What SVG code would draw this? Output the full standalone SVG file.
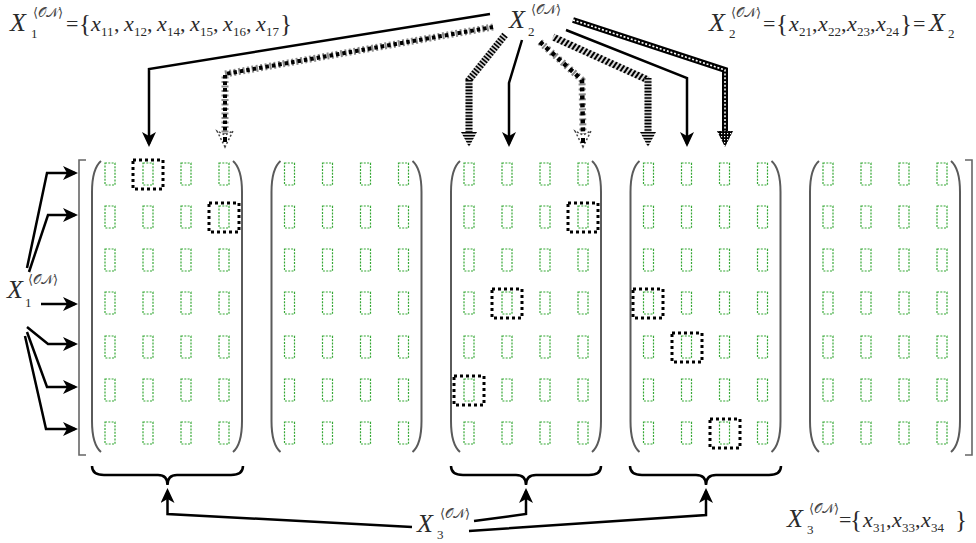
<svg xmlns="http://www.w3.org/2000/svg" width="976" height="543" viewBox="0 0 976 543">
<style>
  .cell{fill:none;stroke:#35a835;stroke-width:1.2;stroke-dasharray:2 1.3}
  .paren{fill:none;stroke:#5a5a5a;stroke-width:2}
  .bracket{fill:none;stroke:#666;stroke-width:1.6}
  .hl{fill:none;stroke:#000;stroke-width:3;stroke-dasharray:3 3}
  .solid{fill:none;stroke:#000;stroke-width:2.5}
  .brace{fill:none;stroke:#000;stroke-width:2.5}
  .t{fill:#2a2a2a;font-family:'Liberation Serif','DejaVu Serif','Times New Roman',serif}
  .X{font-size:26px;font-style:italic}
  .x{font-size:22px;font-style:italic}
  .sb{font-size:13px;font-style:normal}
  .sup{font-size:13px;font-style:normal;fill:#444}
  .op{font-size:22px;font-style:normal}
  .br{font-size:25px;font-style:normal}
</style>
<defs>
  <marker id="ah" viewBox="0 0 16 14" refX="12" refY="7" markerWidth="16" markerHeight="14" markerUnits="userSpaceOnUse" orient="auto">
    <path d="M0,0 L15,7 L0,14 L4,7 z" fill="#000"/>
  </marker>
  <pattern id="hstripe" width="6" height="3" patternUnits="userSpaceOnUse">
    <rect width="6" height="3" fill="#d0d0d0"/>
    <rect width="6" height="1.5" fill="#000"/>
  </pattern>
  <pattern id="diag" width="4" height="4" patternUnits="userSpaceOnUse" patternTransform="rotate(35)">
    <rect width="4" height="4" fill="#d8d8d8"/>
    <rect width="2" height="4" fill="#000"/>
  </pattern>
  <pattern id="checker" width="3" height="3" patternUnits="userSpaceOnUse">
    <rect width="3" height="3" fill="#000"/>
    <rect x="1" y="1" width="1.2" height="1.2" fill="#fff"/>
  </pattern>
  <!-- one column of seven cells, centred on x=0 -->
  <g id="col">
    <rect class="cell" x="-5" y="163" width="10" height="22"/>
    <rect class="cell" x="-5" y="206" width="10" height="22"/>
    <rect class="cell" x="-5" y="249" width="10" height="22"/>
    <rect class="cell" x="-5" y="292" width="10" height="22"/>
    <rect class="cell" x="-5" y="336" width="10" height="22"/>
    <rect class="cell" x="-5" y="379" width="10" height="22"/>
    <rect class="cell" x="-5" y="422" width="10" height="22"/>
  </g>
  <!-- 4 x 7 matrix in round parentheses, first column at x=0 -->
  <g id="matrix">
    <use href="#col" x="0"/>
    <use href="#col" x="38"/>
    <use href="#col" x="76"/>
    <use href="#col" x="114"/>
    <path class="paren" d="M-9,161 C-16,167 -18,178 -18,192 L-18,421 C-18,435 -16,446 -9,452"/>
    <path class="paren" d="M123,161 C130,167 132,178 132,192 L132,421 C132,435 130,446 123,452"/>
  </g>
</defs>

<!-- outer square brackets -->
<g id="outer-bracket">
  <path class="bracket" d="M86,160 L79,160 L79,455 L86,455"/>
  <path class="bracket" d="M965,160 L972,160 L972,455 L965,455"/>
</g>

<!-- matrices -->
<g id="block1" transform="translate(110,0)"><use href="#matrix"/></g>
<g id="block2" transform="translate(289.5,0)"><use href="#matrix"/></g>
<g id="block3" transform="translate(469,0)"><use href="#matrix"/></g>
<g id="block4" transform="translate(648.5,0)"><use href="#matrix"/></g>
<g id="block5" transform="translate(828,0)"><use href="#matrix"/></g>

<!-- selected cells -->
<g id="selected">
  <rect class="hl" x="133" y="160" width="30" height="29"/>
  <rect class="hl" x="209" y="203" width="30" height="29"/>
  <rect class="hl" x="568" y="203" width="30" height="29"/>
  <rect class="hl" x="492" y="289" width="30" height="29"/>
  <rect class="hl" x="454" y="376" width="30" height="29"/>
  <rect class="hl" x="633" y="289" width="30" height="29"/>
  <rect class="hl" x="672" y="333" width="30" height="29"/>
  <rect class="hl" x="710" y="419" width="30" height="29"/>
</g>

<!-- braces under blocks 1, 3, 4 -->
<g id="braces">
  <path class="brace" d="M92,466 Q92,475 104,475 L158,475 Q167.5,475 167.5,485 Q167.5,475 177,475 L231,475 Q243,475 243,466"/>
  <path class="brace" d="M451,466 Q451,475 463,475 L516,475 Q526,475 526,485 Q526,475 536,475 L589,475 Q601,475 601,466"/>
  <path class="brace" d="M630,466 Q630,475 642,475 L696,475 Q706,475 706,485 Q706,475 716,475 L769,475 Q781,475 781,466"/>
</g>

<g id="connectors">
  <!-- X1 to rows -->
  <polyline class="solid" points="27,268 47,173 75,173" marker-end="url(#ah)"/>
  <polyline class="solid" points="29,272 48,215 75,215" marker-end="url(#ah)"/>
  <polyline class="solid" points="41,304 75,304" marker-end="url(#ah)"/>
  <polyline class="solid" points="27,327 48,344 75,344" marker-end="url(#ah)"/>
  <polyline class="solid" points="27,332 47,387 75,387" marker-end="url(#ah)"/>
  <polyline class="solid" points="25,336 46,429 75,429" marker-end="url(#ah)"/>

  <!-- X2 to columns -->
  <polyline class="solid" points="490,14 149,69 149,144" marker-end="url(#ah)"/>
  <polyline class="solid" points="522,40 509,83 509,144" marker-end="url(#ah)"/>
  <polyline class="solid" points="566,30 687,78 687,144" marker-end="url(#ah)"/>

  <!-- dashed band to block 1, column 4 -->
  <polyline points="493,27 225,74 225,134" fill="none" stroke="#8a8a8a" stroke-width="7" stroke-dasharray="2 2.5"/>
  <polyline points="493,27 225,74 225,134" fill="none" stroke="#000" stroke-width="4" stroke-dasharray="3.5 3"/>
  <path d="M225,147 L217,131 L225,135 L233,131 z" fill="none" stroke="#444" stroke-width="1.5" stroke-dasharray="2 2"/>
  <rect x="223" y="137" width="4" height="5" fill="#000"/>

  <!-- striped band to block 3, column 1 -->
  <polyline points="505,35 469,80 469,133" fill="none" stroke="#cfcfcf" stroke-width="7"/>
  <polyline points="505,35 469,80 469,133" fill="none" stroke="#000" stroke-width="7" stroke-dasharray="1.6 1.6"/>
  <path d="M469,147 L461,132 L477,132 z" fill="url(#hstripe)"/>

  <!-- dotted band to block 3, column 4 -->
  <polyline points="540,42 582,80 583,134" fill="none" stroke="#8a8a8a" stroke-width="7" stroke-dasharray="2 3"/>
  <polyline points="540,42 582,80 583,134" fill="none" stroke="#000" stroke-width="4.5" stroke-dasharray="4 4"/>
  <path d="M583,147 L575,131 L583,135 L591,131 z" fill="none" stroke="#444" stroke-width="1.5" stroke-dasharray="2 2"/>
  <rect x="581" y="138" width="4" height="5" fill="#000"/>

  <!-- hatched band to block 4, column 1 -->
  <polyline points="553,37 648,80" fill="none" stroke="url(#diag)" stroke-width="7"/>
  <polyline points="648,78 648,133" fill="none" stroke="#cfcfcf" stroke-width="7"/>
  <polyline points="648,78 648,133" fill="none" stroke="#000" stroke-width="7" stroke-dasharray="1.6 1.6"/>
  <path d="M648,147 L640,132 L656,132 z" fill="url(#hstripe)"/>

  <!-- chequered band to block 4, column 3 -->
  <polyline points="573,20 725,70 725,133" fill="none" stroke="#000" stroke-width="6"/>
  <polyline points="573,20 725,70 725,133" fill="none" stroke="#fff" stroke-width="1.6" stroke-dasharray="2 1.8"/>
  <path d="M725,147 L717,131 L733,131 z" fill="url(#checker)"/>

  <!-- X3 to braces -->
  <polyline class="solid" points="412,527 167.5,514 167.5,491" marker-end="url(#ah)"/>
  <polyline class="solid" points="474,521 526,514 526,491" marker-end="url(#ah)"/>
  <polyline class="solid" points="469,531 706,515 706,491" marker-end="url(#ah)"/>
</g>

<!-- set definitions -->
<g id="label-x1-set">
  <text class="t"><tspan class="X" x="10" y="31">X</tspan><tspan class="sup" x="33" y="17">⟨𝒪𝒩⟩</tspan><tspan class="sb" x="31" y="38">1</tspan><tspan class="op" x="66" y="31">=</tspan><tspan class="br" x="79" y="32">{</tspan><tspan class="x" x="91" y="31">x</tspan><tspan class="sb" x="101" y="36">11</tspan><tspan class="op" x="114" y="31">,</tspan><tspan class="x" x="124" y="31">x</tspan><tspan class="sb" x="134" y="36">12</tspan><tspan class="op" x="147" y="31">,</tspan><tspan class="x" x="157" y="31">x</tspan><tspan class="sb" x="167" y="36">14</tspan><tspan class="op" x="180" y="31">,</tspan><tspan class="x" x="190" y="31">x</tspan><tspan class="sb" x="200" y="36">15</tspan><tspan class="op" x="213" y="31">,</tspan><tspan class="x" x="223" y="31">x</tspan><tspan class="sb" x="233" y="36">16</tspan><tspan class="op" x="246" y="31">,</tspan><tspan class="x" x="256" y="31">x</tspan><tspan class="sb" x="266" y="36">17</tspan><tspan class="br" x="280" y="32">}</tspan></text>
</g>

<g id="label-x2-set">
  <text class="t"><tspan class="X" x="709" y="31">X</tspan><tspan class="sup" x="731" y="17">⟨𝒪𝒩⟩</tspan><tspan class="sb" x="729" y="38">2</tspan><tspan class="op" x="763" y="31">=</tspan><tspan class="br" x="776" y="32">{</tspan><tspan class="x" x="789" y="31">x</tspan><tspan class="sb" x="799" y="36">21</tspan><tspan class="op" x="812" y="31">,</tspan><tspan class="x" x="818" y="31">x</tspan><tspan class="sb" x="828" y="36">22</tspan><tspan class="op" x="841" y="31">,</tspan><tspan class="x" x="847" y="31">x</tspan><tspan class="sb" x="857" y="36">23</tspan><tspan class="op" x="870" y="31">,</tspan><tspan class="x" x="876" y="31">x</tspan><tspan class="sb" x="886" y="36">24</tspan><tspan class="br" x="900" y="32">}</tspan><tspan class="op" x="913" y="31">=</tspan><tspan class="X" x="929" y="31">X</tspan><tspan class="sb" x="948" y="38">2</tspan></text>
</g>

<g id="label-x3-set">
  <text class="t"><tspan class="X" x="787" y="527">X</tspan><tspan class="sup" x="809" y="513">⟨𝒪𝒩⟩</tspan><tspan class="sb" x="807" y="534">3</tspan><tspan class="op" x="839" y="527">=</tspan><tspan class="br" x="850" y="528">{</tspan><tspan class="x" x="863" y="527">x</tspan><tspan class="sb" x="873" y="532">31</tspan><tspan class="op" x="886" y="527">,</tspan><tspan class="x" x="892" y="527">x</tspan><tspan class="sb" x="902" y="532">33</tspan><tspan class="op" x="915" y="527">,</tspan><tspan class="x" x="921" y="527">x</tspan><tspan class="sb" x="931" y="532">34</tspan><tspan class="br" x="955" y="528">}</tspan></text>
</g>

<!-- set symbols at the arrow origins -->
<g id="node-x1">
  <text class="t"><tspan class="X" x="7" y="298">X</tspan><tspan class="sup" x="28" y="284">⟨𝒪𝒩⟩</tspan><tspan class="sb" x="25" y="307">1</tspan></text>
</g>
<g id="node-x2">
  <text class="t"><tspan class="X" x="509" y="28">X</tspan><tspan class="sup" x="531" y="14">⟨𝒪𝒩⟩</tspan><tspan class="sb" x="528" y="36">2</tspan></text>
</g>
<g id="node-x3">
  <text class="t"><tspan class="X" x="417" y="532">X</tspan><tspan class="sup" x="440" y="518">⟨𝒪𝒩⟩</tspan><tspan class="sb" font-size="10" x="437" y="539">3</tspan></text>
</g>
</svg>
